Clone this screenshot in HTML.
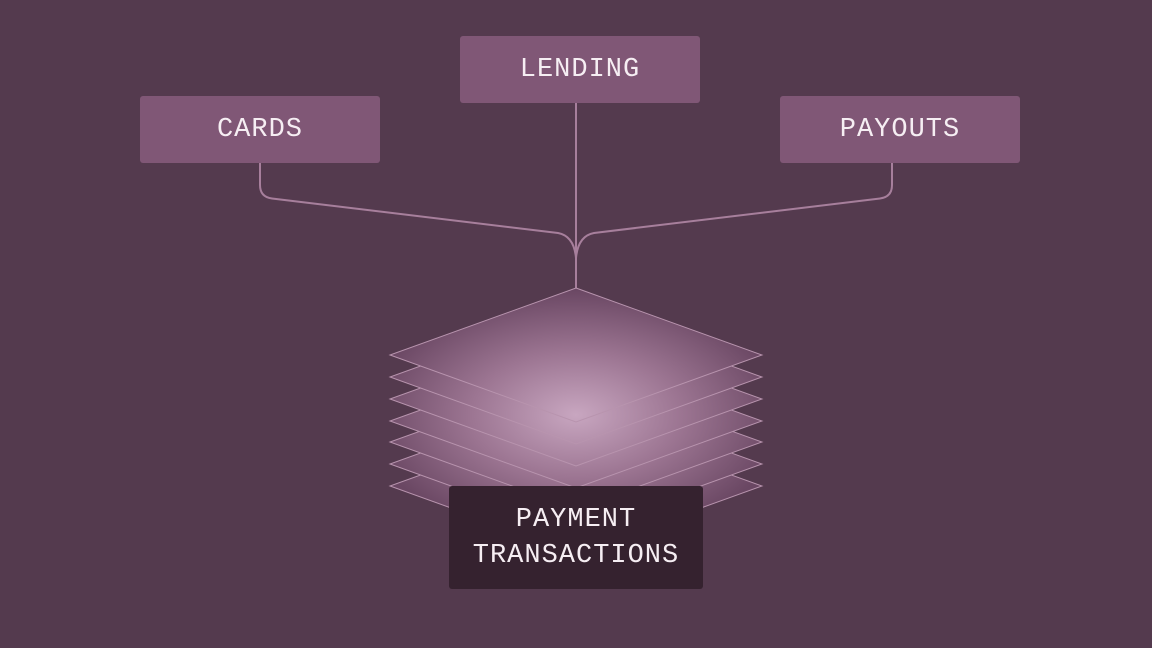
<!DOCTYPE html>
<html><head><meta charset="utf-8"><style>
body{margin:0;width:1152px;height:648px;background:#543a4e;overflow:hidden;position:relative;font-family:"Liberation Mono",monospace}
.b{position:absolute;background:#805776;border-radius:3px;color:#f6eef3;font-size:27px;letter-spacing:1px;display:flex;align-items:center;justify-content:center;text-align:center}
</style></head><body>
<svg width="1152" height="648" style="position:absolute;left:0;top:0">
<defs>
<radialGradient id="g" cx="576" cy="415" r="210" gradientUnits="userSpaceOnUse" gradientTransform="translate(576 415) scale(1 0.6) translate(-576 -415)">
<stop offset="0" stop-color="#c8a6c0"/>
<stop offset="0.5" stop-color="#9c7592"/>
<stop offset="1" stop-color="#6a4763"/>
</radialGradient>
</defs>
<g fill="none" stroke="#a77f9c" stroke-width="2">
<path d="M260 163 V185 Q260 197 272 198.5 L558 233 Q574 236 576 258"/>
<path d="M892 163 V185 Q892 197 880 198.5 L594 233 Q578 236 576 258"/>
<path d="M576 103 V288"/>
</g>
<g stroke="#b894ae" stroke-width="1" fill="url(#g)">
<path d="M576 419 L762 486 L576 553 L390 486Z"/>
<path d="M576 397 L762 464 L576 531 L390 464Z"/>
<path d="M576 375 L762 442 L576 509 L390 442Z"/>
<path d="M576 354 L762 421 L576 488 L390 421Z"/>
<path d="M576 332 L762 399 L576 466 L390 399Z"/>
<path d="M576 310 L762 377 L576 444 L390 377Z"/>
<path d="M576 288 L762 355 L576 422 L390 355Z"/>
</g>
</svg>
<div class="b" style="left:140px;top:96px;width:240px;height:67px">CARDS</div>
<div class="b" style="left:460px;top:36px;width:240px;height:67px">LENDING</div>
<div class="b" style="left:780px;top:96px;width:240px;height:67px">PAYOUTS</div>
<div class="b" style="left:449px;top:486px;width:254px;height:103px;background:#35222f;flex-direction:column;line-height:36px">PAYMENT<br>TRANSACTIONS</div>
</body></html>
